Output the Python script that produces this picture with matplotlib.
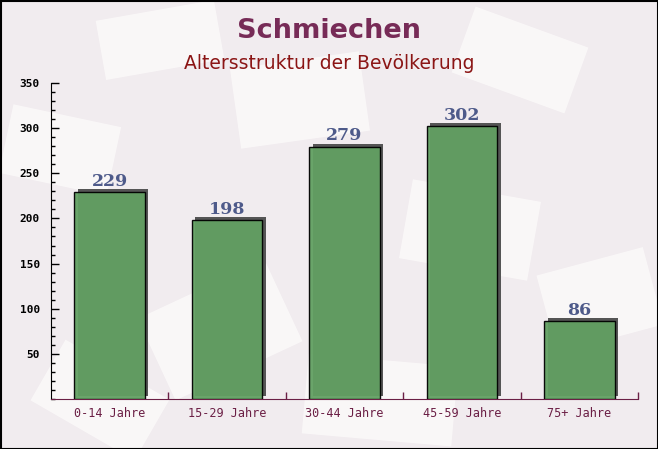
import numpy as np
import matplotlib
matplotlib.use("Agg")
import matplotlib.pyplot as plt
import matplotlib.patheffects as pe
from matplotlib.patches import Polygon, Rectangle

kategorien = ["0-14 Jahre", "15-29 Jahre", "30-44 Jahre", "45-59 Jahre", "75+ Jahre"]
werte = [229, 198, 279, 302, 86]

fig = plt.figure(figsize=(6.58, 4.49), dpi=100)
fig.patch.set_facecolor("#f1ecef")

# faint background "envelopes"
bg = fig.add_axes([0, 0, 1, 1], zorder=-10)
bg.set_xlim(0, 658)
bg.set_ylim(449, 0)
bg.axis("off")
umschlaege = [
    (60, 150, 110, 70, 12), (300, 100, 130, 80, -8), (520, 60, 120, 70, 20),
    (220, 330, 140, 90, -25), (470, 230, 130, 80, 10), (100, 400, 120, 70, 30),
    (600, 300, 110, 80, -15), (380, 400, 150, 80, 5), (160, 40, 120, 60, -10),
]
for cx, cy, w, h, ang in umschlaege:
    t = np.radians(ang)
    pts = np.array([[-w / 2, -h / 2], [w / 2, -h / 2], [w / 2, h / 2], [-w / 2, h / 2]])
    rot = np.array([[np.cos(t), -np.sin(t)], [np.sin(t), np.cos(t)]])
    pts = pts @ rot.T + [cx, cy]
    bg.add_patch(Polygon(pts, closed=True, facecolor="#fbf9f9", edgecolor="none", alpha=0.9))
bg.add_patch(Rectangle((0.5, 0.5), 657, 448, fill=False, edgecolor="black", lw=1.5))

fig.text(0.5, 0.932, "Schmiechen", ha="center", va="center", fontsize=19.5,
         fontweight="bold", color="#772b57", family="DejaVu Sans")
fig.text(0.5, 0.858, "Altersstruktur der Bevölkerung", ha="center", va="center",
         fontsize=13.5, color="#8b1515", family="DejaVu Sans")

ax = fig.add_axes([51 / 658, 50 / 449, 587 / 658, 316 / 449])
ax.set_facecolor("none")
x = np.arange(len(kategorien))
balken = ax.bar(x, werte, width=0.6, color="#62a062", alpha=0.95, edgecolor="black", lw=1.0, zorder=3)
for b in balken:
    b.set_path_effects([pe.SimplePatchShadow(offset=(2.5, 2.5), shadow_rgbFace="#555555", alpha=1.0),
                        pe.Normal()])
for xi, v in zip(x, werte):
    ax.text(xi, v + 3, str(v), ha="center", va="bottom", fontsize=12.5, fontweight="bold",
            color="#4e5a8a", family="DejaVu Serif", zorder=4)

ax.set_xlim(-0.5, len(kategorien) - 0.5)
ax.set_ylim(0, 350)
ax.set_yticks(np.arange(50, 351, 50))
ax.set_yticks(np.arange(0, 351, 10), minor=True)
ax.set_xticks(x)
ax.set_xticklabels(kategorien)
ax.set_xticks(np.arange(0.5, len(kategorien), 1.0), minor=True)
ax.tick_params(axis="y", which="major", direction="in", length=6, width=1, color="black",
               labelsize=8, pad=8)
ax.tick_params(axis="y", which="minor", direction="in", length=3, width=1, color="black")
ax.tick_params(axis="x", which="major", length=0, labelsize=8.5, labelcolor="#6b1f45", pad=6)
ax.tick_params(axis="x", which="minor", direction="in", length=5, width=1, color="#6b1f45")
for lab in ax.get_yticklabels():
    lab.set_family("DejaVu Sans Mono")
    lab.set_fontweight("bold")
for lab in ax.get_xticklabels():
    lab.set_family("DejaVu Sans Mono")

ax.spines["top"].set_visible(False)
ax.spines["right"].set_visible(False)
ax.spines["left"].set_color("black")
ax.spines["bottom"].set_color("#6b1f45")

fig.savefig("out.png", dpi=100, facecolor=fig.get_facecolor())
